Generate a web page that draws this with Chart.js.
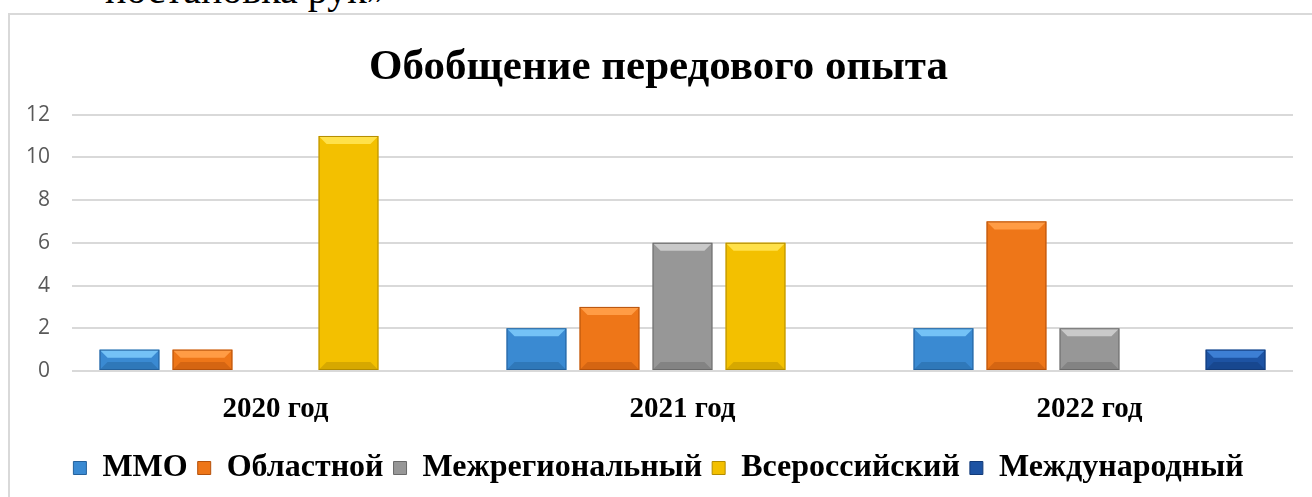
<!DOCTYPE html>
<html>
<head>
<meta charset="utf-8">
<script src="https://cdn.jsdelivr.net/npm/chart.js@4.4.1/dist/chart.umd.min.js"></script>
<style>
  html, body { margin: 0; padding: 0; background: #fff; overflow: hidden; }
  body { width: 1312px; height: 497px; position: relative; }
  .topText {
    position: absolute; left: 105px; top: -34px;
    font-family: "Liberation Serif", serif; font-size: 40px; color: #000;
    white-space: nowrap;
  }
  .frame {
    position: absolute; left: 8px; top: 13px; width: 1310px; height: 490px;
    border-left: 2px solid #d9d9d9; border-top: 2px solid #d9d9d9;
  }
  .chart { position: absolute; left: 10px; top: 15px; width: 1302px; height: 482px; }
</style>
</head>
<body>
<div class="topText">постановка рук»</div>
<div class="frame"></div>
<div class="chart"><canvas id="myChart"></canvas></div>
<script>
let years = ['2020 год', '2021 год', '2022 год'];
let seriesNames = ['ММО', 'Областной', 'Межрегиональный', 'Всероссийский', 'Международный'];
let mmo = [1, 2, 2];
let oblast = [1, 3, 7];
let mezhreg = [0, 6, 2];
let vseross = [11, 6, 0];
let mezhdunar = [0, 0, 1];
let yTicks = [0, 2, 4, 6, 8, 10, 12];

let baseColors = ['#3a8ad2', '#ee7618', '#979797', '#f3c000', '#1d53a3'];
let lightColors = ['#74c2f6', '#ff9c45', '#c9c9c9', '#ffe14a', '#3d7fd4'];
let darkColors = ['#24619c', '#b5520c', '#6a6a6a', '#b38c00', '#123a78'];

// bevel look like in the office chart
const bevelPlugin = {
  id: 'bevel',
  afterDatasetsDraw(chart) {
    let ctx = chart.ctx;
    chart.data.datasets.forEach((ds, i) => {
      let meta = chart.getDatasetMeta(i);
      meta.data.forEach((bar, j) => {
        if (!ds.data[j]) return;
        let left = bar.x - bar.width / 2;
        let right = bar.x + bar.width / 2;
        let top = bar.y;
        let bottom = bar.base;
        let b = Math.min(8, (bottom - top) / 2);
        ctx.save();
        ctx.fillStyle = lightColors[i];
        ctx.beginPath();
        ctx.moveTo(left, top); ctx.lineTo(right, top);
        ctx.lineTo(right - b, top + b); ctx.lineTo(left + b, top + b);
        ctx.closePath(); ctx.fill();
        ctx.fillStyle = darkColors[i];
        ctx.globalAlpha = 0.45;
        ctx.beginPath();
        ctx.moveTo(left, bottom); ctx.lineTo(right, bottom);
        ctx.lineTo(right - b, bottom - b); ctx.lineTo(left + b, bottom - b);
        ctx.closePath(); ctx.fill();
        ctx.globalAlpha = 1;
        ctx.strokeStyle = darkColors[i];
        ctx.lineWidth = 1;
        ctx.strokeRect(left + 0.5, top + 0.5, right - left - 1, bottom - top - 1);
        ctx.restore();
      });
    });
  }
};

let allValues = [mmo, oblast, mezhreg, vseross, mezhdunar];
let datasets = seriesNames.map((name, i) => ({
  label: name,
  data: allValues[i],
  backgroundColor: baseColors[i],
  borderWidth: 0,
  categoryPercentage: 0.897,
  barPercentage: 0.82
}));

new Chart('myChart', {
  type: 'bar',
  data: { labels: years, datasets: datasets },
  plugins: [bevelPlugin],
  options: {
    responsive: true,
    maintainAspectRatio: false,
    animation: false,
    layout: { padding: { left: 14, right: 19, top: 0, bottom: 3 } },
    plugins: {
      title: {
        display: true,
        text: 'Обобщение передового опыта',
        color: '#000',
        font: { family: 'Liberation Serif', size: 43, weight: 'bold' },
        padding: { top: 27, bottom: 21 }
      },
      legend: {
        position: 'bottom',
        labels: {
          color: '#000',
          boxWidth: 13,
          boxHeight: 13,
          padding: 10,
          font: { family: 'Liberation Serif', size: 32, weight: 'bold' },
          generateLabels: (chart) => seriesNames.map((name, i) => ({
            text: name,
            fillStyle: baseColors[i],
            strokeStyle: darkColors[i],
            lineWidth: 1,
            datasetIndex: i
          }))
        }
      },
      tooltip: { enabled: false }
    },
    scales: {
      x: {
        grid: { display: false, drawTicks: false },
        border: { display: false },
        ticks: {
          color: '#000',
          padding: 21,
          font: { family: 'Liberation Serif', size: 29, weight: 'bold' }
        },
        afterFit: (scale) => { scale.height = 71; }
      },
      y: {
        min: 0,
        max: 12,
        afterBuildTicks: (scale) => { scale.ticks = yTicks.map(v => ({ value: v })); },
        grid: { color: '#d9d9d9', lineWidth: 2, drawTicks: false },
        border: { display: false },
        ticks: {
          color: '#595959',
          padding: 22,
          font: { family: 'Open Sans', size: 21 }
        },
        afterFit: (scale) => { scale.width = 48; }
      }
    }
  }
});
</script>
</body>
</html>
